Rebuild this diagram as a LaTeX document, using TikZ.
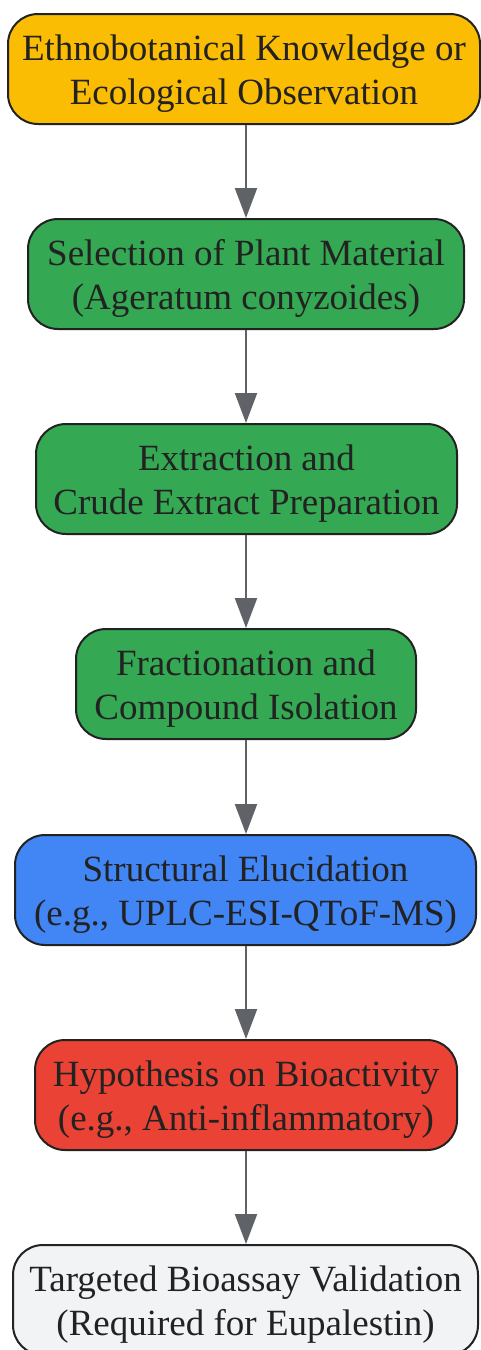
\documentclass[tikz,border=0pt]{standalone}
\usepackage{fontspec}
\setmainfont{Liberation Serif}
\usetikzlibrary{arrows.meta}
\definecolor{cOrange}{HTML}{FBBC04}
\definecolor{cGreen}{HTML}{34A853}
\definecolor{cBlue}{HTML}{4285F4}
\definecolor{cRed}{HTML}{EA4335}
\definecolor{cGray}{HTML}{F1F3F4}
\definecolor{cBorder}{HTML}{222222}
\definecolor{cArrow}{HTML}{5F6368}
\newcommand{\twolines}[2]{\rule{0pt}{35pt}#1\\#2}
\tikzset{
  flowbox/.style={draw=cBorder, line width=2pt, rounded corners=30pt,
    minimum height=110pt, inner sep=0pt, align=center, text=cBorder,
    font=\fontsize{37}{44}\selectfont},
  flowarrow/.style={draw=cArrow, line width=2.2pt,
    -{Triangle[width=22pt,length=30pt]}}
}
\begin{document}
\begin{tikzpicture}[x=1pt,y=-1pt]
\useasboundingbox (0,0) rectangle (481,1350);
\node[flowbox, fill=cOrange, minimum width=472pt] (n1) at (244,69) {\twolines{Ethnobotanical Knowledge or}{Ecological Observation}};
\node[flowbox, fill=cGreen, minimum width=436pt] (n2) at (246,274) {\twolines{Selection of Plant Material}{(Ageratum conyzoides)}};
\node[flowbox, fill=cGreen, minimum width=421pt] (n3) at (246.5,479) {\twolines{Extraction and}{Crude Extract Preparation}};
\node[flowbox, fill=cGreen, minimum width=340pt] (n4) at (246,684) {\twolines{Fractionation and}{Compound Isolation}};
\node[flowbox, fill=cBlue, minimum width=461pt] (n5) at (245.5,890) {\twolines{Structural Elucidation}{(e.g., UPLC-ESI-QToF-MS)}};
\node[flowbox, fill=cRed, minimum width=422pt] (n6) at (246,1095) {\twolines{Hypothesis on Bioactivity}{(e.g., Anti-inflammatory)}};
\node[flowbox, fill=cGray, minimum width=465pt] (n7) at (245.5,1300) {\twolines{Targeted Bioassay Validation}{(Required for Eupalestin)}};
\foreach \a/\b in {n1/n2,n2/n3,n3/n4,n4/n5,n5/n6,n6/n7}{
  \draw[flowarrow] (\a.south -| 246,0) -- (\b.north -| 246,0);
}
\end{tikzpicture}
\end{document}
